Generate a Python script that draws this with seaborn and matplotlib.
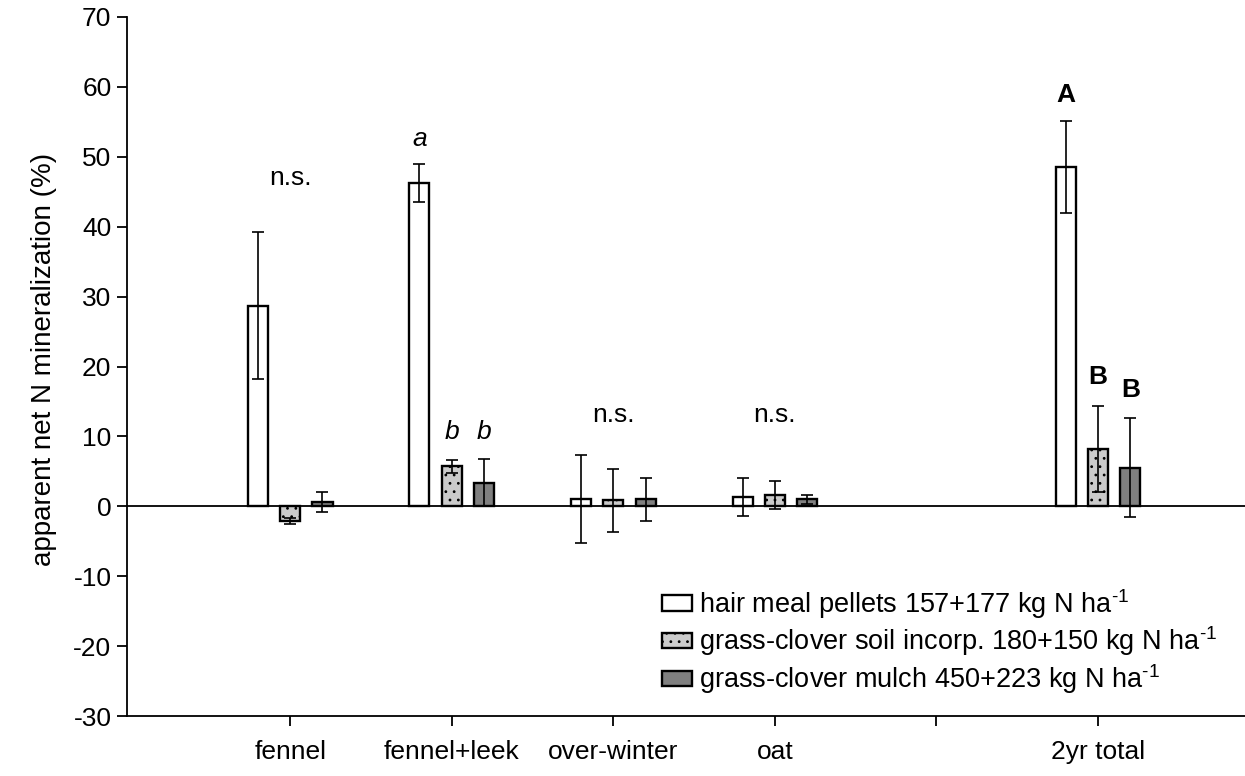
import matplotlib
matplotlib.use("Agg")
import matplotlib.pyplot as plt
from matplotlib.patches import Patch
import numpy as np
import pandas as pd
import seaborn as sns

# --- data -------------------------------------------------------------
periods = ["fennel", "fennel+leek", "over-winter", "oat", "", "2yr total"]
data_periods = ["fennel", "fennel+leek", "over-winter", "oat", "2yr total"]
treatments = ["hair", "soil", "mulch"]
legend_labels = [
    r"hair meal pellets 157+177 kg N ha$^{\text{-}1}$",
    r"grass-clover soil incorp. 180+150 kg N ha$^{\text{-}1}$",
    r"grass-clover mulch 450+223 kg N ha$^{\text{-}1}$",
]

hair_mean = [28.7, 46.2, 1.1, 1.3, 48.5]
hair_err = [10.5, 2.7, 6.3, 2.7, 6.6]
soil_mean = [-2.1, 5.7, 0.85, 1.6, 8.2]
soil_err = [0.45, 0.9, 4.5, 2.0, 6.15]
mulch_mean = [0.6, 3.4, 1.0, 1.0, 5.5]
mulch_err = [1.4, 3.3, 3.1, 0.6, 7.1]

# significance letters: (period, treatment, y, text, style)
letters = [
    ("fennel", None, 47.0, "n.s.", "normal"),
    ("fennel+leek", "hair", 52.5, "a", "italic"),
    ("fennel+leek", "soil", 10.6, "b", "italic"),
    ("fennel+leek", "mulch", 10.6, "b", "italic"),
    ("over-winter", None, 13.0, "n.s.", "normal"),
    ("oat", None, 13.0, "n.s.", "normal"),
    ("2yr total", "hair", 58.9, "A", "bold"),
    ("2yr total", "soil", 18.5, "B", "bold"),
    ("2yr total", "mulch", 16.7, "B", "bold"),
]

colors = ["#ffffff", "#cbcbcb", "#808080"]
hatches = [None, "..", None]

# --- styling ----------------------------------------------------------
sns.set_style("ticks")
plt.rcParams["font.family"] = ["Liberation Sans", "DejaVu Sans"]
plt.rcParams["mathtext.fontset"] = "custom"
plt.rcParams["mathtext.rm"] = "Liberation Sans"
plt.rcParams["mathtext.it"] = "Liberation Sans:italic"
plt.rcParams["mathtext.bf"] = "Liberation Sans:bold"
plt.rcParams["axes.unicode_minus"] = False
plt.rcParams["hatch.linewidth"] = 0.8
plt.rcParams["hatch.color"] = "#333333"
for key in ["text.color", "axes.labelcolor", "xtick.color", "ytick.color",
            "axes.edgecolor"]:
    plt.rcParams[key] = "black"
FS = 19

df = pd.DataFrame({
    "period": data_periods * 3,
    "treatment": sum([[t] * len(data_periods) for t in treatments], []),
    "value": hair_mean + soil_mean + mulch_mean,
})

fig = plt.figure(figsize=(12.45, 7.76), dpi=100)
W, H = 1245, 776
ax = fig.add_axes([127 / W, 1 - 716 / H, (W - 127) / W, (716 - 17) / H])

sns.barplot(
    data=df, x="period", y="value", hue="treatment",
    order=periods, hue_order=treatments, palette=colors,
    width=0.6, gap=0.38, errorbar=None, edgecolor="black",
    linewidth=1.7, legend=False, ax=ax,
)

# bar centres per treatment, then the error bars on top
centres = {}
for t, cont, err, hatch in zip(treatments, ax.containers,
                               [hair_err, soil_err, mulch_err], hatches):
    bars = sorted(cont.patches, key=lambda p: p.get_x())
    xs = [b.get_x() + b.get_width() / 2 for b in bars]
    heights = df[df.treatment == t].set_index("period").loc[data_periods, "value"].values
    centres[t] = dict(zip(data_periods, xs))
    if hatch:
        for b in bars:
            b.set_hatch(hatch)
    ax.errorbar(xs, heights, yerr=err, fmt="none", ecolor="black",
                elinewidth=1.2, capsize=4.2, capthick=1.2, zorder=5)

ax.axhline(0, color="black", lw=1.3, zorder=4)

# significance annotations
for period, t, y, txt, style in letters:
    if t is None:
        x = ax.get_xticks()[periods.index(period)]
    else:
        x = centres[t][period]
    ax.text(x, y, txt, ha="center", va="center", fontsize=FS,
            fontstyle="italic" if style == "italic" else "normal",
            fontweight="bold" if style == "bold" else "normal")

ax.set_ylim(-30, 70)
ax.set_yticks(np.arange(-30, 71, 10))
ax.set_xlim(-1.01, 5.91)
ax.set_xlabel("")
ax.set_ylabel("apparent net N mineralization (%)", fontsize=20)
ax.yaxis.set_label_coords(-0.063, 0.51)
ax.tick_params(axis="both", labelsize=FS, length=7.2, width=1.3, color="black")
ax.tick_params(axis="y", pad=4)
ax.tick_params(axis="x", pad=10)
for s in ["top", "right"]:
    ax.spines[s].set_visible(False)
for s in ["left", "bottom"]:
    ax.spines[s].set_linewidth(1.3)

handles = [Patch(facecolor=c, edgecolor="black", linewidth=1.7, hatch=h)
           for c, h in zip(colors, hatches)]
ax.legend(handles, legend_labels, loc="upper left",
          bbox_to_anchor=(662 / W, 1 - 587 / H), bbox_transform=fig.transFigure,
          frameon=False, fontsize=19.5, handlelength=1.1, handleheight=0.5,
          handletextpad=0.25, labelspacing=0.14, borderpad=0, borderaxespad=0)

fig.savefig("out.png", dpi=100)
